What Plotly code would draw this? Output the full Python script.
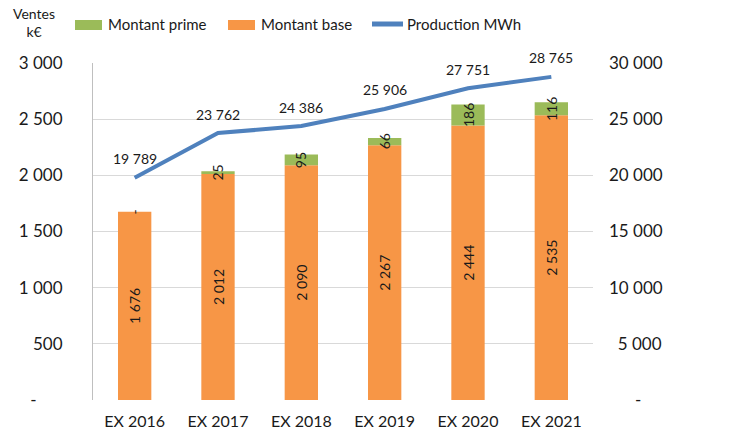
import plotly.graph_objects as go

categories = ["EX 2016", "EX 2017", "EX 2018", "EX 2019", "EX 2020", "EX 2021"]
montant_base = [1676, 2012, 2090, 2267, 2444, 2535]
montant_prime = [0, 25, 95, 66, 186, 116]
production_mwh = [19789, 23762, 24386, 25906, 27751, 28765]

left_ticks = [0, 500, 1000, 1500, 2000, 2500, 3000]
left_ticktext = ["-      ", "500", "1 000", "1 500", "2 000", "2 500", "3 000"]
right_ticks = [0, 5000, 10000, 15000, 20000, 25000, 30000]
right_ticktext = ["      -", "  5 000", "10 000", "15 000", "20 000", "25 000", "30 000"]

FONT = "Lato, Carlito, Calibri, sans-serif"
ORANGE = "#F79646"
GREEN = "#9BBB59"
BLUE = "#4F81BD"
TXT = "#1a1a1a"

# plot-area geometry in pixels (used to place the hand-drawn legend)
L, R, T, B = 93, 593, 63, 400
PW, PH = R - L, B - T

def px(x):
    return (x - L) / PW

def py(y):
    return (B - y) / PH

def fmt(v):
    return "-" if v == 0 else f"{v:,}".replace(",", " ")

fig = go.Figure()

fig.add_trace(go.Bar(
    x=categories, y=montant_base, name="Montant base",
    marker=dict(color=ORANGE, line=dict(width=0)),
    text=[fmt(v) for v in montant_base], textposition="inside",
    insidetextanchor="middle", textangle=-90,
    textfont=dict(family=FONT, size=14, color=TXT),
    yaxis="y", offsetgroup="a", hoverinfo="skip",
))
fig.add_trace(go.Bar(
    x=categories, y=montant_prime, name="Montant prime", base=montant_base,
    marker=dict(color=GREEN, line=dict(width=0)),
    yaxis="y", offsetgroup="a", hoverinfo="skip",
))
fig.add_trace(go.Scatter(
    x=categories, y=production_mwh, name="Production MWh", mode="lines",
    line=dict(color=BLUE, width=4), yaxis="y2", hoverinfo="skip",
))

# prime labels (centered in the green segments, rotated)
for c, b, p in zip(categories, montant_base, montant_prime):
    fig.add_annotation(x=c, y=b + p / 2, xref="x", yref="y", text=fmt(p),
                       textangle=-90, showarrow=False,
                       font=dict(family=FONT, size=14, color=TXT))
# production labels above points
for c, v in zip(categories, production_mwh):
    fig.add_annotation(x=c, y=v, xref="x", yref="y2", text=fmt(v),
                       showarrow=False, yshift=19,
                       font=dict(family=FONT, size=14, color=TXT))

# axis title
fig.add_annotation(x=px(34), y=py(23), xref="paper", yref="paper", text="Ventes<br>k€",
                   showarrow=False, xanchor="center", yanchor="middle",
                   font=dict(family=FONT, size=14, color=TXT))

# hand-drawn legend
legend_items = [
    ("rect", GREEN, 75, 102, "Montant prime", 106),
    ("rect", ORANGE, 228, 255, "Montant base", 259),
    ("line", BLUE, 372, 403, "Production MWh", 405),
]
for kind, col, x0, x1, label, tx in legend_items:
    if kind == "rect":
        fig.add_shape(type="rect", xref="paper", yref="paper",
                      x0=px(x0), x1=px(x1), y0=py(30), y1=py(20),
                      fillcolor=col, line=dict(width=0))
    else:
        fig.add_shape(type="line", xref="paper", yref="paper",
                      x0=px(x0), x1=px(x1), y0=py(24), y1=py(24),
                      line=dict(color=col, width=5))
    fig.add_annotation(x=px(tx), y=py(24), xref="paper", yref="paper", text=label,
                       showarrow=False, xanchor="left", yanchor="middle",
                       font=dict(family=FONT, size=15, color=TXT))

fig.update_layout(
    width=744, height=430,
    margin=dict(l=L, r=744 - R, t=T, b=430 - B, autoexpand=False),
    paper_bgcolor="white", plot_bgcolor="white",
    barmode="overlay", bargap=0.6,
    showlegend=False, hovermode=False,
    font=dict(family=FONT, color=TXT),
    xaxis=dict(showgrid=False, showline=False, zeroline=False,
               tickfont=dict(family=FONT, size=16, color=TXT), ticks="",
               ticklabelstandoff=10),
    yaxis=dict(range=[0, 3000], tickvals=left_ticks, ticktext=left_ticktext,
               showgrid=True, gridcolor="#D9D9D9", gridwidth=1, zeroline=False,
               showline=True, linecolor="#BFBFBF", linewidth=1,
               tickfont=dict(family=FONT, size=17, color=TXT),
               ticklabelstandoff=26),
    yaxis2=dict(range=[0, 30000], tickvals=right_ticks, ticktext=right_ticktext,
                overlaying="y", side="right", showgrid=False, zeroline=False,
                showline=False, tickfont=dict(family=FONT, size=17, color=TXT),
                ticklabelstandoff=15),
)

fig.write_html(
    "out.html",
    config={"displayModeBar": False},
    post_script="document.body.style.margin='0';document.body.style.overflow='hidden';",
)
